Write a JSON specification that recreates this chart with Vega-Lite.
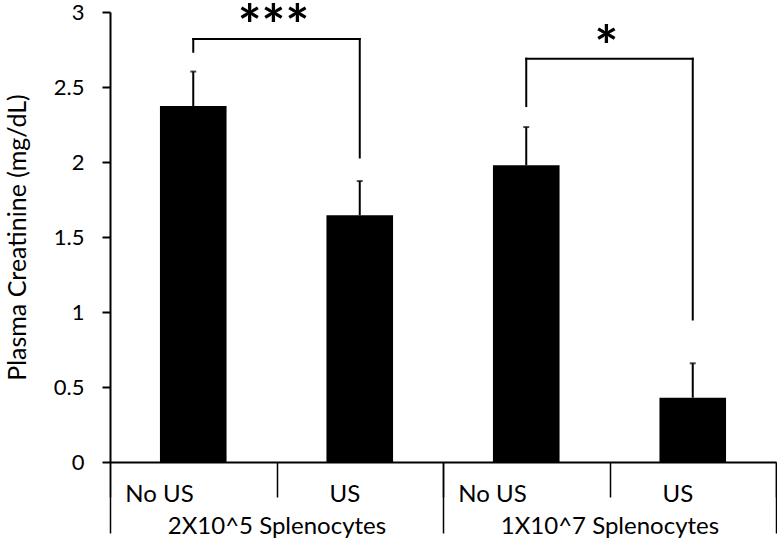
{
  "$schema": "https://vega.github.io/schema/vega-lite/v6.json",
  "autosize": {"type": "none"},
  "width": 666,
  "height": 450,
  "padding": {"left": 110, "top": 12, "right": 1, "bottom": 87},
  "background": "white",
  "config": {
    "font": "Lato",
    "view": {"stroke": null},
    "axis": {"grid": false, "labelColor": "black", "titleColor": "black", "labelFont": "Lato", "titleFont": "Lato", "domainColor": "black", "tickColor": "black", "labelLimit": 0}
  },
  "layer": [
    {
      "layer": [
        {
          "data": {"values": [
            {"key": "1|No US", "value": 2.373, "err": 2.603},
            {"key": "1|US", "value": 1.645, "err": 1.873},
            {"key": "2|No US", "value": 1.978, "err": 2.233},
            {"key": "2|US", "value": 0.429, "err": 0.658}
          ]},
          "layer": [
            {
              "mark": {"type": "rule", "color": "black", "strokeWidth": 2},
              "encoding": {
                "x": {"field": "key", "type": "nominal"},
                "y": {"field": "value", "type": "quantitative"},
                "y2": {"field": "err"}
              }
            },
            {
              "mark": {"type": "tick", "color": "black", "size": 6, "thickness": 2, "orient": "horizontal"},
              "encoding": {
                "x": {"field": "key", "type": "nominal"},
                "y": {"field": "err", "type": "quantitative"}
              }
            },
            {
              "mark": {"type": "bar", "color": "black", "width": {"band": 0.4}},
              "encoding": {
                "x": {
                  "field": "key", "type": "nominal",
                  "scale": {"domain": ["1|No US", "1|US", "2|No US", "2|US"], "paddingInner": 0, "paddingOuter": 0},
                  "axis": {
                    "title": null,
                    "labelExpr": "split(datum.label, '|')[1]",
                    "labelAngle": 0,
                    "labelFontSize": 24,
                    "labelPadding": -3,
                    "tickBand": "extent",
                    "tickSize": 35,
                    "tickWidth": 1.5,
                    "domainWidth": 2
                  }
                },
                "y": {
                  "field": "value", "type": "quantitative",
                  "scale": {"domain": [0, 3], "nice": false},
                  "axis": {
                    "title": "Plasma Creatinine (mg/dL)",
                    "titleFontSize": 25,
                    "titleFontWeight": "normal",
                    "titlePadding": 23,
                    "values": [0, 0.5, 1, 1.5, 2, 2.5, 3],
                    "format": "~g",
                    "labelFontSize": 22,
                    "labelPadding": 18,
                    "tickSize": 8,
                    "tickWidth": 2,
                    "domainWidth": 2
                  }
                }
              }
            }
          ]
        },
        {
          "data": {"values": [
            {"a": "1|No US", "b": "1|No US", "y1": 2.735, "y2": 2.82},
            {"a": "1|No US", "b": "1|US", "y1": 2.82, "y2": 2.82},
            {"a": "1|US", "b": "1|US", "y1": 2.82, "y2": 2.03},
            {"a": "2|No US", "b": "2|No US", "y1": 2.373, "y2": 2.689},
            {"a": "2|No US", "b": "2|US", "y1": 2.689, "y2": 2.689},
            {"a": "2|US", "b": "2|US", "y1": 2.689, "y2": 0.95}
          ]},
          "mark": {"type": "rule", "color": "black", "strokeWidth": 2, "strokeCap": "square"},
          "encoding": {
            "x": {"field": "a", "type": "nominal", "bandPosition": 0.5},
            "x2": {"field": "b", "bandPosition": 0.5},
            "y": {"field": "y1", "type": "quantitative"},
            "y2": {"field": "y2"}
          }
        },
        {
          "data": {"values": [
            {"key": "1|US", "y": 2.783, "label": "***"},
            {"key": "2|US", "y": 2.64, "label": "*"}
          ]},
          "mark": {"type": "text", "font": "Lato", "fontWeight": "bold", "fontSize": 56, "baseline": "alphabetic", "align": "center", "color": "black", "dx": -3},
          "encoding": {
            "x": {"field": "key", "type": "nominal", "bandPosition": 0},
            "y": {"field": "y", "type": "quantitative"},
            "text": {"field": "label"}
          }
        }
      ]
    },
    {
      "data": {"values": [
        {"group": "2X10^5 Splenocytes"},
        {"group": "1X10^7 Splenocytes"}
      ]},
      "mark": {"type": "rule", "opacity": 0},
      "encoding": {
        "x": {
          "field": "group", "type": "nominal", "sort": null,
          "scale": {"paddingInner": 0, "paddingOuter": 0},
          "axis": {
            "title": null,
            "orient": "bottom",
            "labelAngle": 0,
            "labelFontSize": 24,
            "labelPadding": -19,
            "tickBand": "extent",
            "tickSize": 71,
            "tickWidth": 1.5,
            "domain": false
          }
        }
      }
    }
  ],
  "resolve": {"scale": {"x": "independent"}}
}
